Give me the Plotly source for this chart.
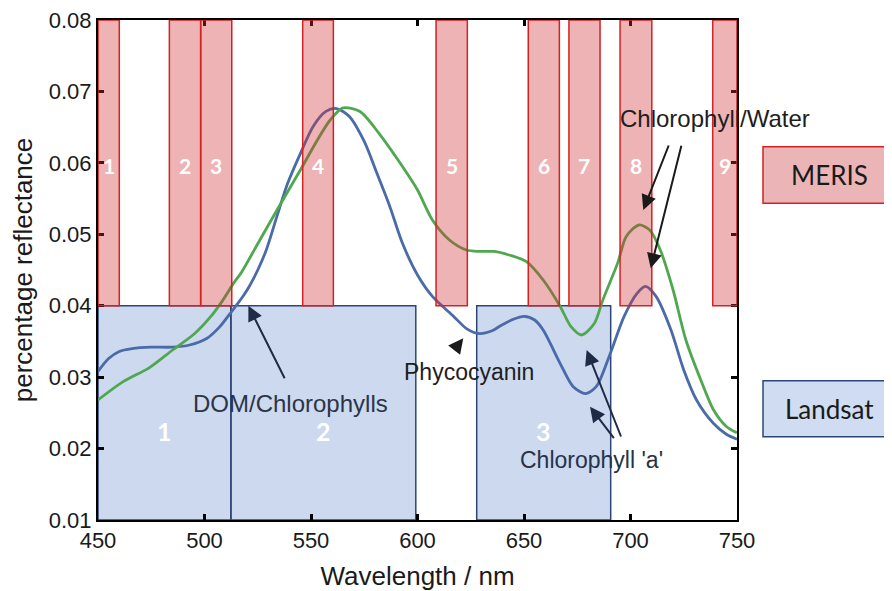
import plotly.graph_objects as go

# Wavelength (nm) and reflectance for the two spectra
blue_wl = [450, 455, 460, 466, 475, 485, 493, 501, 507, 512, 518, 521, 525, 529, 534, 539, 545, 551, 557,
           562, 568, 575, 581, 587, 593, 600, 607, 617, 623, 629, 635, 639, 645, 650, 655, 659, 667, 673,
           679, 684, 690, 697, 703, 707, 712, 719, 725, 731, 739, 745, 750]
blue_refl = [0.0308, 0.0326, 0.0336, 0.0340, 0.0342, 0.0342, 0.0345, 0.0354, 0.0370, 0.0389, 0.0413, 0.0427,
             0.0450, 0.0478, 0.0525, 0.0571, 0.0613, 0.0651, 0.0672, 0.0676, 0.0665, 0.0630, 0.0585, 0.0539,
             0.0487, 0.0443, 0.0413, 0.0385, 0.0368, 0.0361, 0.0365, 0.0372, 0.0381, 0.0385, 0.0380, 0.0366,
             0.0319, 0.0287, 0.0277, 0.0287, 0.0329, 0.0385, 0.0417, 0.0427, 0.0413, 0.0366, 0.0310, 0.0268,
             0.0235, 0.0220, 0.0213]

green_wl = [450, 462, 474, 485, 495, 503, 508, 514, 517, 526, 535, 545, 553, 559, 565, 573, 582, 592, 600,
            607, 615, 623, 629, 636, 643, 651, 659, 667, 672, 677, 683, 687, 694, 698, 704, 709, 714, 720,
            726, 733, 739, 745, 750]
green_refl = [0.0268, 0.0294, 0.0313, 0.0338, 0.0360, 0.0385, 0.0405, 0.0433, 0.0445, 0.0492, 0.0539, 0.0590,
              0.0632, 0.0660, 0.0677, 0.0672, 0.0641, 0.0599, 0.0562, 0.0520, 0.0492, 0.0478, 0.0476, 0.0476,
              0.0471, 0.0462, 0.0436, 0.0399, 0.0371, 0.0359, 0.0375, 0.0408, 0.0460, 0.0497, 0.0513, 0.0506,
              0.0478, 0.0422, 0.0352, 0.0296, 0.0254, 0.0231, 0.0222]

# Sensor bands (nm)
meris_labels = ["1", "2", "3", "4", "5", "6", "7", "8", "9"]
meris_start = [450, 483.5, 498.2, 546.1, 608.7, 652.0, 671.1, 695.1, 738.6]
meris_end = [460, 498.2, 512.8, 560.5, 623.4, 666.6, 685.7, 710.0, 750]
meris_range = [0.04, 0.08]

landsat_labels = ["1", "2", "3"]
landsat_start = [450, 512.4, 627.8]
landsat_end = [512.4, 599.2, 690.7]
landsat_range = [0.01, 0.04]

x_ticks = [450, 500, 550, 600, 650, 700, 750]
y_ticks = [0.01, 0.02, 0.03, 0.04, 0.05, 0.06, 0.07, 0.08]

FONT = "Liberation Sans, Arial, sans-serif"
CAL = "Lato, Open Sans, sans-serif"

fig = go.Figure()
fig.add_trace(go.Scatter(x=blue_wl, y=blue_refl, mode="lines",
                         line=dict(color="#4a6aa8", width=2.8, shape="spline", smoothing=0.8),
                         showlegend=False, hoverinfo="skip"))
fig.add_trace(go.Scatter(x=green_wl, y=green_refl, mode="lines",
                         line=dict(color="#4fa84f", width=2.8, shape="spline", smoothing=0.8),
                         showlegend=False, hoverinfo="skip"))

shapes = []
for s, e in zip(landsat_start, landsat_end):
    shapes.append(dict(type="rect", xref="x", yref="y", x0=s, x1=e, y0=landsat_range[0], y1=landsat_range[1],
                       fillcolor="rgba(68,114,196,0.27)", line=dict(color="#2d4676", width=1.5), layer="below"))
for s, e in zip(meris_start, meris_end):
    shapes.append(dict(type="rect", xref="x", yref="y", x0=s, x1=e, y0=meris_range[0], y1=meris_range[1],
                       fillcolor="rgba(205,50,55,0.37)", line=dict(color="#d42222", width=1.5), layer="above"))
# Key boxes at right
shapes.append(dict(type="rect", xref="paper", yref="paper", x0=1.0407, x1=1.28, y0=0.6334, y1=0.7466,
                   fillcolor="#ebb5b7", line=dict(color="#d42222", width=1.5)))
shapes.append(dict(type="rect", xref="paper", yref="paper", x0=1.0407, x1=1.28, y0=0.1666, y1=0.2786,
                   fillcolor="#cfdcf1", line=dict(color="#2d4676", width=1.5)))

ann = []
for lab, s, e in zip(meris_labels, meris_start, meris_end):
    ann.append(dict(x=(s + e) / 2, y=0.0597, xref="x", yref="y", text=lab, showarrow=False,
                    font=dict(family=CAL, size=21, color="white", weight="bold")))
for lab, s, e in zip(landsat_labels, landsat_start, landsat_end):
    ann.append(dict(x=(s + e) / 2, y=0.0224, xref="x", yref="y", text=lab, showarrow=False,
                    font=dict(family=CAL, size=25, color="white", weight="bold")))

ann.append(dict(x=1.1455, y=0.69, xref="paper", yref="paper", text="MERIS", showarrow=False,
                xanchor="center", yanchor="middle", font=dict(family=CAL, size=26, color="#1a1a1a")))
ann.append(dict(x=1.1455, y=0.2226, xref="paper", yref="paper", text="Landsat", showarrow=False,
                xanchor="center", yanchor="middle", font=dict(family=CAL, size=26, color="#1a1a1a")))

# Text labels
ann.append(dict(x=739.7, y=0.06628, xref="x", yref="y", text="Chlorophyll/Water", showarrow=False,
                xanchor="center", yanchor="middle", font=dict(family=FONT, size=24, color="#1e1e1e")))
ann.append(dict(x=540.6, y=0.02634, xref="x", yref="y", text="DOM/Chlorophylls", showarrow=False,
                xanchor="center", yanchor="middle", font=dict(family=FONT, size=24, color="#2b3547")))
ann.append(dict(x=624.2, y=0.03072, xref="x", yref="y", text="Phycocyanin", showarrow=False,
                xanchor="center", yanchor="middle", font=dict(family=FONT, size=23, color="#1e1e1e")))
ann.append(dict(x=681.5, y=0.0184, xref="x", yref="y", text="Chlorophyll 'a'", showarrow=False,
                xanchor="center", yanchor="middle", font=dict(family=FONT, size=23, color="#26324a")))

# Arrows (head in data coords, tail offset in px)
arrows = [
    (706.0, 0.0534, 26, -66, "#1a1a1a"),
    (709.5, 0.04524, 31, -124, "#1a1a1a"),
    (520.6, 0.0400, 37, 74, "#1f2a44"),
    (621.5, 0.03544, -10, 13, "#1a1a1a"),
    (679.4, 0.0338, 35, 88, "#1f2a44"),
    (681.0, 0.02586, 25, 33, "#1f2a44"),
]
for x, y, ax, ay, c in arrows:
    ann.append(dict(x=x, y=y, xref="x", yref="y", ax=ax, ay=ay, axref="pixel", ayref="pixel", text="",
                    showarrow=True, arrowhead=2, arrowsize=1.5, arrowwidth=2, arrowcolor=c))

# Page body adds an 8px offset, so margins are shifted accordingly
fig.update_layout(
    width=892, height=591,
    margin=dict(l=90, r=163, t=12, b=79, autoexpand=False),
    paper_bgcolor="white", plot_bgcolor="white",
    shapes=shapes, annotations=ann,
    font=dict(family=FONT, color="#1a1a1a"),
)
fig.update_xaxes(range=[450, 750], tickvals=x_ticks, ticks="inside", ticklen=6, tickwidth=2.5,
                 tickcolor="black", showline=True, linewidth=2, linecolor="black", mirror="ticks",
                 showgrid=False, zeroline=False, automargin=False, ticklabeloverflow="allow",
                 tickfont=dict(size=22, family=FONT, color="#1a1a1a"),
                 title=dict(text="Wavelength / nm", font=dict(size=26, family=FONT, color="#1a1a1a"), standoff=14))
fig.update_yaxes(range=[0.01, 0.08], tickvals=y_ticks, tickformat=".2f", ticks="inside", ticklen=6,
                 tickwidth=2.5, tickcolor="black", showline=True, linewidth=2, linecolor="black",
                 mirror="ticks", showgrid=False, zeroline=False, automargin=False, ticklabeloverflow="allow",
                 tickfont=dict(size=22, family=FONT, color="#1a1a1a"),
                 title=dict(text="percentage reflectance", font=dict(size=26, family=FONT, color="#1a1a1a"),
                            standoff=12))

fig.write_html("out.html")
